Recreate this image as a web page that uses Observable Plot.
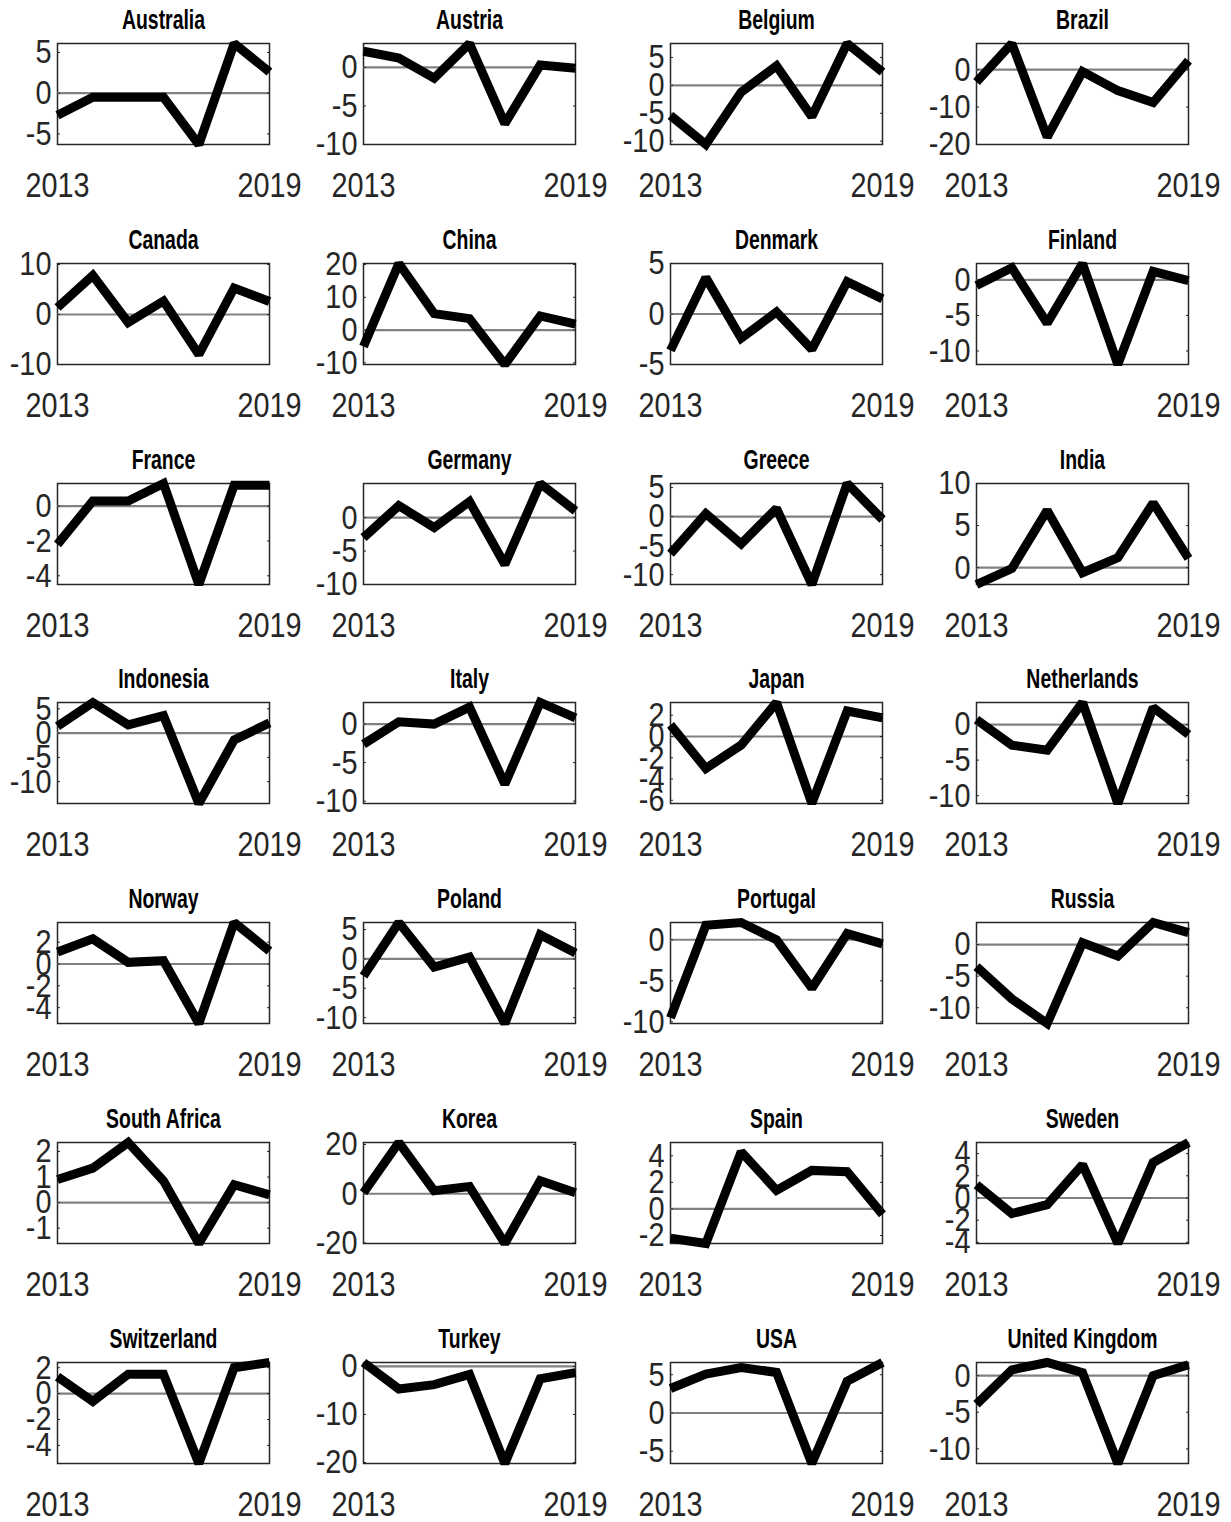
<!DOCTYPE html>
<html><head><meta charset="utf-8">
<script src="https://cdn.jsdelivr.net/npm/d3@7"></script>
<script src="https://cdn.jsdelivr.net/npm/@observablehq/plot@0.6"></script>
<style>
body{margin:0;background:#fff;}
#grid{position:relative;width:1231px;height:1522px;overflow:hidden;}
.panel{position:absolute;}
.panel svg{overflow:visible;}
</style></head><body><div id="grid"></div>
<script>
const years = [2013, 2014, 2015, 2016, 2017, 2018, 2019];
const countries = ["Australia","Austria","Belgium","Brazil","Canada","China","Denmark","Finland",
  "France","Germany","Greece","India","Indonesia","Italy","Japan","Netherlands",
  "Norway","Poland","Portugal","Russia","South Africa","Korea","Spain","Sweden",
  "Switzerland","Turkey","USA","United Kingdom"];

const australia   = [-2.7, -0.5, -0.5, -0.5, -6.3, 6.1, 2.6];
const austria     = [2.1, 1.2, -1.4, 3.1, -7.3, 0.3, -0.1];
const belgium     = [-5.4, -10.6, -1.2, 3.5, -5.6, 7.5, 2.4];
const brazil      = [-3.3, 7.0, -18.0, -0.5, -5.6, -8.8, 2.4];
const canada      = [1.4, 7.8, -1.6, 2.7, -8.0, 5.3, 2.6];
const china       = [-5.0, 20.3, 5.0, 3.5, -10.5, 4.3, 1.8];
const denmark     = [-3.6, 3.6, -2.4, 0.2, -3.5, 3.2, 1.5];
const finland     = [-0.8, 1.7, -6.1, 2.3, -11.9, 1.2, -0.1];
const france      = [-2.2, 0.3, 0.3, 1.3, -4.5, 1.2, 1.2];
const germany     = [-3.0, 1.8, -1.5, 2.4, -7.0, 5.1, 1.0];
const greece      = [-6.4, 0.5, -4.7, 1.4, -11.7, 5.7, -0.5];
const india       = [-2.0, -0.1, 6.8, -0.6, 1.2, 7.7, 1.1];
const indonesia   = [1.4, 6.3, 1.7, 3.6, -14.5, -1.4, 2.1];
const italy       = [-2.6, 0.3, 0.0, 2.2, -7.8, 2.8, 0.8];
const japan       = [1.1, -3.0, -0.8, 3.2, -6.3, 2.4, 1.75];
const netherlands = [0.7, -2.9, -3.6, 3.1, -11.1, 2.4, -1.4];
const norway      = [1.1, 2.3, 0.15, 0.3, -5.45, 3.8, 1.2];
const poland      = [-2.9, 6.2, -1.4, 0.3, -11.0, 4.1, 1.0];
const portugal    = [-9.5, 1.75, 2.1, 0.0, -5.9, 0.75, -0.5];
const russia      = [-3.5, -8.6, -12.5, 0.3, -1.8, 3.5, 1.9];
const southAfrica = [0.9, 1.35, 2.35, 0.85, -1.6, 0.7, 0.3];
const korea       = [0.4, 20.8, 1.2, 2.9, -20.2, 5.3, 0.4];
const spain       = [-2.2, -2.6, 4.3, 1.4, 2.9, 2.8, -0.4];
const sweden      = [1.2, -1.4, -0.6, 3.0, -4.1, 3.2, 5.0];
const switzerland = [1.3, -0.6, 1.5, 1.5, -5.4, 2.0, 2.4];
const turkey      = [0.8, -4.7, -3.8, -1.7, -20.2, -2.6, -1.3];
const usa         = [3.2, 5.1, 5.95, 5.3, -6.6, 4.15, 6.6];
const unitedKingdom = [-3.9, 0.8, 1.8, 0.4, -12.0, 0.0, 1.5];

const series = [australia, austria, belgium, brazil, canada, china, denmark, finland,
  france, germany, greece, india, indonesia, italy, japan, netherlands,
  norway, poland, portugal, russia, southAfrica, korea, spain, sweden,
  switzerland, turkey, usa, unitedKingdom];

const yLow  = [-6.3, -10, -10.6, -20, -10, -10.5, -5, -11.9,
  -4.5, -10, -11.7, -2, -14.5, -10.3, -6.3, -11.1,
  -5.45, -11, -10.2, -12.5, -1.6, -20.2, -2.6, -4.1,
  -5.4, -20.2, -6.6, -12];
const yHigh = [6.1, 3.1, 7.5, 7.0, 10.2, 20.3, 5, 2.3,
  1.3, 5.1, 5.7, 10, 6.3, 2.8, 3.2, 3.1,
  3.8, 6.2, 2.1, 3.5, 2.35, 20.8, 5, 5.0,
  2.4, 0.8, 6.6, 1.8];
const yTicks = [[-5,0,5],[-10,-5,0],[-10,-5,0,5],[-20,-10,0],[-10,0,10],[-10,0,10,20],[-5,0,5],[-10,-5,0],
  [-4,-2,0],[-10,-5,0],[-10,-5,0,5],[0,5,10],[-10,-5,0,5],[-10,-5,0],[-6,-4,-2,0,2],[-10,-5,0],
  [-4,-2,0,2],[-10,-5,0,5],[-10,-5,0],[-10,-5,0],[-1,0,1,2],[-20,0,20],[-2,0,2,4],[-4,-2,0,2,4],
  [-4,-2,0,2],[-20,-10,0],[-5,0,5],[-10,-5,0]];
const xTicks = [2013, 2019];

const font = "'Liberation Sans',Arial,Helvetica,sans-serif";
const grid = document.getElementById("grid");

function condense(svg, selector, s) {
  svg.querySelectorAll(selector).forEach(t => {
    const tr = t.getAttribute("transform") || "";
    const xa = t.getAttribute("x");
    let pre = "";
    if (xa !== null && !isNaN(+xa)) { pre = ` translate(${+xa},0)`; t.setAttribute("x", 0); }
    t.setAttribute("transform", `${tr}${pre} scale(${s},1)`);
  });
}

countries.forEach((name, i) => {
  const col = i % 4, row = Math.floor(i / 4);
  const data = years.map((year, j) => ({year, value: series[i][j]}));
  const lo = yLow[i], hi = yHigh[i];
  const ticks = yTicks[i].filter(t => t >= lo - 0.05 && t <= hi + 0.05);
  const chart = Plot.plot({
    width: 306, height: 220,
    marginLeft: 57, marginRight: 37, marginTop: 43, marginBottom: 76,
    style: {fontFamily: font, color: "#262626", background: "transparent", overflow: "visible"},
    x: {domain: [2013, 2019]},
    y: {domain: [lo, hi]},
    marks: [
      Plot.frame({stroke: "#262626", strokeWidth: 1.5}),
      Plot.ruleY([0], {stroke: "#808080", strokeWidth: 2.2}),
      Plot.line(data, {x: "year", y: "value", stroke: "#000", strokeWidth: 9,
        strokeLinejoin: "miter", strokeMiterlimit: 1.6, strokeLinecap: "butt"}),
      Plot.axisY(ticks, {anchor: "left", tickSize: -3, tickFormat: () => "", label: null, stroke: "#262626"}),
      Plot.axisY(ticks, {anchor: "right", tickSize: -3, tickFormat: () => "", label: null, stroke: "#262626"}),
      Plot.axisY(ticks, {anchor: "left", tickSize: 0, tickPadding: 6, fontSize: 34, label: null,
        tickFormat: d => d < 0 ? "-" + Math.abs(d) : String(d), fill: "#262626"}),
      Plot.axisX(xTicks, {anchor: "bottom", tickSize: 0, tickPadding: 27, fontSize: 36, label: null,
        tickFormat: d => String(d), fill: "#262626"}),
      Plot.text([name], {frameAnchor: "top", lineAnchor: "middle", dy: -23, fontSize: 27,
        fontWeight: "bold", fill: "#000"})
    ]
  });
  condense(chart, 'g[aria-label="y-axis tick label"] text', 0.85);
  condense(chart, 'g[aria-label="x-axis tick label"] text', 0.8);
  condense(chart, 'g[aria-label="text"] text', 0.72);
  const div = document.createElement("div");
  div.className = "panel";
  div.style.left = (col * 306.3) + "px";
  div.style.top = (row * 219.8) + "px";
  div.appendChild(chart);
  grid.appendChild(div);
});
</script>
</body></html>
